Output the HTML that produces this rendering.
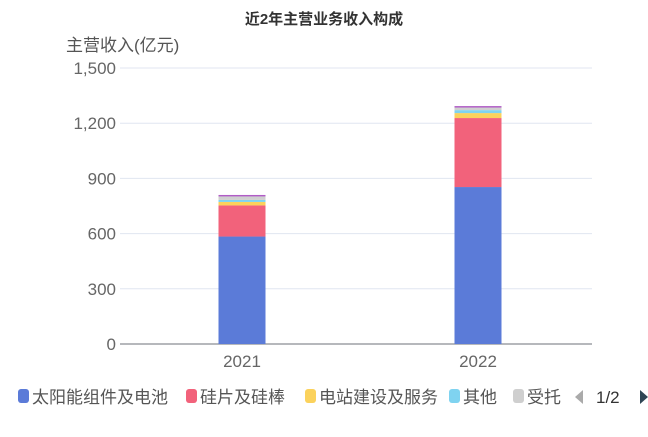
<!DOCTYPE html>
<html><head><meta charset="utf-8"><style>
body{margin:0;background:#fff;font-family:"Liberation Sans","Noto Sans CJK SC",sans-serif}
svg text{font-family:"Liberation Sans","Noto Sans CJK SC",sans-serif}
</style></head><body>
<svg id="c" width="648" height="432">
<text x="324" y="24" text-anchor="middle" font-size="15" font-weight="bold" fill="#333">近2年主营业务收入构成</text>
<text x="66" y="51" font-size="17" fill="#555">主营收入(亿元)</text>
<g id="grid"></g><g id="bars"></g><g id="legend"></g>
</svg>
<script>
const categories=["2021","2022"];
const seriesNames=["太阳能组件及电池","硅片及硅棒","电站建设及服务","其他","受托","其他业务"];
const seriesColors=["#5b7bd8","#f2627b","#fbd25c","#7fd3f0","#cfcfcf","#b05cc6"];
const s1=[584,853];
const s2=[169,375];
const s3=[19,27];
const s4=[11,16];
const s5=[19,14];
const s6=[8,8];
const yTicks=[0,300,600,900,1200,1500];
const tickLabels=["0","300","600","900","1,200","1,500"];
const series=[s1,s2,s3,s4,s5,s6];
const ns="http://www.w3.org/2000/svg";
const X0=124,X1=596,GX0=120,GX1=592,Y0=344,Y1=68,MAX=1500;
const y=v=>Y0-(v/MAX)*(Y0-Y1);
const bw=(X1-X0)/categories.length;
const xc=i=>X0+bw*(i+0.5);
function mk(t,a,p){const e=document.createElementNS(ns,t);for(const k in a)e.setAttribute(k,a[k]);p.appendChild(e);return e;}
const g=document.getElementById('grid');
yTicks.forEach((t,i)=>{
 const l=mk('line',{x1:GX0,x2:GX1,y1:y(t),y2:y(t),stroke:i==0?'#6e7079':'#e0e6f1'},g);
 
 
 const tx=mk('text',{x:GX0-4,y:y(t)+6,'text-anchor':'end','font-size':17,fill:'#666'},g);
 tx.textContent=tickLabels[i];
 
 
});
categories.forEach((c,i)=>{
 const tx=mk('text',{x:xc(i),y:Y0+23,'text-anchor':'middle','font-size':17,fill:'#666'},g);
 tx.textContent=c;
 
 
});
const b=document.getElementById('bars');
categories.forEach((c,i)=>{
 let acc=0;
 series.forEach((s,k)=>{
  const r=mk('rect',{x:xc(i)-23.5,width:47,y:y(acc+s[i]),height:y(acc)-y(acc+s[i]),fill:seriesColors[k]},b);
  
  
  acc+=s[i];
 });
});
const lg=document.getElementById('legend');
const lxs=[18,186,305,449,513];
for(let k=0;k<5;k++){
 const lx=lxs[k];
 const r=mk('rect',{x:lx,y:389,width:11,height:14,rx:3,fill:seriesColors[k]},lg);
 
 
 const t=mk('text',{x:lx+14,y:403,'font-size':17,fill:'#555'},lg);
 t.textContent=seriesNames[k];
 
 
}
</script>
<svg style="position:absolute;left:570px;top:387px" width="78" height="20">
<polygon points="13,3 13,17 5,10" fill="#aaa"/>
<text x="26" y="16" font-size="17" fill="#333">1/2</text>
<polygon points="70,3 70,17 78,10" fill="#2f4554"/>
</svg>
</body></html>
